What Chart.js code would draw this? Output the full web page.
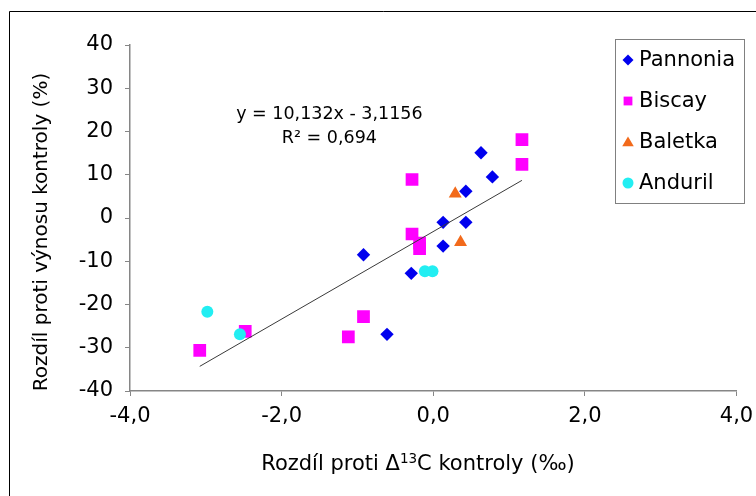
<!DOCTYPE html>
<html>
<head>
<meta charset="utf-8">
<script src="https://cdn.jsdelivr.net/npm/chart.js@4.4.1/dist/chart.umd.min.js"></script>
<style>
  html, body { margin: 0; padding: 0; background: #fff; }
  canvas { display: block; }
</style>
</head>
<body>
<canvas id="chart" width="756" height="496"></canvas>
<script>
// values (x: Δ13C difference, y: yield difference %)
const pannoniaX = [0.63, 0.78, 0.43, 0.13, 0.43, 0.13, -0.92, -0.29, -0.61];
const pannoniaY = [15.1, 9.5, 6.2, -1.0, -1.0, -6.5, -8.5, -12.8, -26.9];
const biscayX = [1.17, 1.17, -0.28, -0.28, -0.18, -0.18, -0.92, -1.12, -2.48, -3.08];
const biscayY = [18.1, 12.4, 8.9, -3.7, -5.8, -7.1, -22.8, -27.5, -26.2, -30.6];
const baletkaX = [0.29, 0.36];
const baletkaY = [5.6, -5.6];
const andurilX = [-2.98, -2.55, -0.11, -0.01];
const andurilY = [-21.7, -26.9, -12.3, -12.3];
const trendX = [-3.08, 1.17];
const trendY = [-34.3, 8.7];

const seriesNames = ['Pannonia', 'Biscay', 'Baletka', 'Anduril'];
const seriesColors = ['#0000EE', '#FF00FF', '#F26A1B', '#22EEF2'];
const seriesStyles = ['rectRot', 'rect', 'triangle', 'circle'];

const xTicks = [-4, -2, 0, 2, 4];
const yTicks = [-40, -30, -20, -10, 0, 10, 20, 30, 40];

const FONT = 'DejaVu Sans';
const AXIS_GRAY = '#868686';

function toPoints(xs, ys) {
    return xs.map((x, i) => ({ x: x, y: ys[i] }));
}

function fmtComma(v) {
    return v.toFixed(1).replace('.', ',');
}

// small marker drawer for the legend box
function drawMarker(ctx, style, x, y, s) {
    ctx.beginPath();
    if (style === 'rectRot') {
        ctx.moveTo(x - s, y); ctx.lineTo(x, y - s); ctx.lineTo(x + s, y); ctx.lineTo(x, y + s);
    } else if (style === 'rect') {
        ctx.rect(x - s * 0.8, y - s * 0.8, s * 1.6, s * 1.6);
    } else if (style === 'triangle') {
        ctx.moveTo(x, y - s); ctx.lineTo(x + s * 1.05, y + s * 0.75); ctx.lineTo(x - s * 1.05, y + s * 0.75);
    } else {
        ctx.arc(x, y, s, 0, Math.PI * 2);
    }
    ctx.closePath();
    ctx.fill();
}

const decorPlugin = {
    id: 'decor',
    beforeDraw(chart) {
        const ctx = chart.ctx;
        ctx.save();
        ctx.fillStyle = '#fff';
        ctx.fillRect(0, 0, chart.width, chart.height);
        ctx.restore();
    },
    afterDraw(chart) {
        const ctx = chart.ctx;
        const xs = chart.scales.x, ys = chart.scales.y;
        ctx.save();

        // outer frame (cropped on right and bottom)
        ctx.strokeStyle = '#000';
        ctx.lineWidth = 1;
        ctx.beginPath();
        ctx.moveTo(9.5, chart.height + 2);
        ctx.lineTo(9.5, 11.5);
        ctx.lineTo(chart.width + 2, 11.5);
        ctx.stroke();

        // trendline equation
        ctx.fillStyle = '#000';
        ctx.font = '17.5px "' + FONT + '"';
        ctx.textAlign = 'center';
        ctx.textBaseline = 'middle';
        const ex = xs.getPixelForValue(-1.37);
        ctx.fillText('y = 10,132x - 3,1156', ex, ys.getPixelForValue(24));
        ctx.fillText('R² = 0,694', ex, ys.getPixelForValue(18.5));

        // y axis title
        ctx.font = '20px "' + FONT + '"';
        ctx.save();
        ctx.translate(42, 232);
        ctx.rotate(-Math.PI / 2);
        ctx.fillText('Rozdíl proti výnosu kontroly (%)', 0, 0);
        ctx.restore();

        // x axis title with superscript 13
        const partA = 'Rozdíl proti Δ';
        const sup = '13';
        const partB = 'C kontroly (‰)';
        ctx.textAlign = 'left';
        ctx.font = '21px "' + FONT + '"';
        const wA = ctx.measureText(partA).width;
        const wB = ctx.measureText(partB).width;
        ctx.font = '13.5px "' + FONT + '"';
        const wS = ctx.measureText(sup).width;
        let tx = 418 - (wA + wS + wB) / 2;
        const ty = 465;
        ctx.font = '21px "' + FONT + '"';
        ctx.fillText(partA, tx, ty);
        tx += wA;
        ctx.font = '13.5px "' + FONT + '"';
        ctx.fillText(sup, tx, ty - 6);
        tx += wS;
        ctx.font = '21px "' + FONT + '"';
        ctx.fillText(partB, tx, ty);

        // legend box
        ctx.strokeStyle = '#808080';
        ctx.strokeRect(615.5, 39.5, 129, 164);
        ctx.font = '21px "' + FONT + '"';
        ctx.textBaseline = 'middle';
        seriesNames.forEach((name, i) => {
            const ly = 60 + i * 41;
            ctx.fillStyle = seriesColors[i];
            drawMarker(ctx, seriesStyles[i], 628, ly, 5.5);
            ctx.fillStyle = '#000';
            ctx.fillText(name, 639, ly + 1);
        });

        ctx.restore();
    }
};

const datasets = [
    {
        label: 'trend',
        data: toPoints(trendX, trendY),
        showLine: true,
        borderColor: '#3a3a3a',
        borderWidth: 1,
        pointRadius: 0,
        order: 0
    },
    {
        label: seriesNames[3],
        data: toPoints(andurilX, andurilY),
        pointStyle: seriesStyles[3],
        pointRadius: 6,
        backgroundColor: seriesColors[3],
        borderColor: seriesColors[3],
        borderWidth: 0,
        order: 1
    },
    {
        label: seriesNames[2],
        data: toPoints(baletkaX, baletkaY),
        pointStyle: seriesStyles[2],
        pointRadius: 7.5,
        backgroundColor: seriesColors[2],
        borderColor: seriesColors[2],
        borderWidth: 0,
        order: 2
    },
    {
        label: seriesNames[1],
        data: toPoints(biscayX, biscayY),
        pointStyle: seriesStyles[1],
        pointRadius: 9,
        backgroundColor: seriesColors[1],
        borderColor: seriesColors[1],
        borderWidth: 0,
        order: 3
    },
    {
        label: seriesNames[0],
        data: toPoints(pannoniaX, pannoniaY),
        pointStyle: seriesStyles[0],
        pointRadius: 6.7,
        backgroundColor: seriesColors[0],
        borderColor: seriesColors[0],
        borderWidth: 0,
        order: 4
    }
];

new Chart(document.getElementById('chart').getContext('2d'), {
    type: 'scatter',
    data: { datasets: datasets },
    options: {
        responsive: false,
        animation: false,
        layout: { padding: { left: 0, top: 45, right: 19.5, bottom: 0 } },
        plugins: {
            legend: { display: false },
            tooltip: { enabled: false }
        },
        scales: {
            x: {
                type: 'linear',
                min: xTicks[0],
                max: xTicks[xTicks.length - 1],
                afterBuildTicks: (s) => { s.ticks = xTicks.map(v => ({ value: v })); },
                afterFit: (s) => { s.height = 105; s.paddingLeft = 0; s.paddingRight = 0; },
                grid: { drawOnChartArea: false, color: AXIS_GRAY, tickLength: 5 },
                border: { color: AXIS_GRAY, width: 1.5 },
                ticks: {
                    color: '#000',
                    padding: 8,
                    maxRotation: 0,
                    font: { family: FONT, size: 21 },
                    callback: (v) => fmtComma(v)
                }
            },
            y: {
                type: 'linear',
                min: yTicks[0],
                max: yTicks[yTicks.length - 1],
                afterBuildTicks: (s) => { s.ticks = yTicks.map(v => ({ value: v })); },
                afterFit: (s) => { s.width = 130; s.paddingTop = 0; s.paddingBottom = 0; },
                grid: { drawOnChartArea: false, color: AXIS_GRAY, tickLength: 5 },
                border: { color: AXIS_GRAY, width: 1.5 },
                ticks: {
                    color: '#000',
                    padding: 12,
                    font: { family: FONT, size: 21 },
                    callback: (v) => String(v)
                }
            }
        }
    },
    plugins: [decorPlugin]
});
</script>
</body>
</html>
